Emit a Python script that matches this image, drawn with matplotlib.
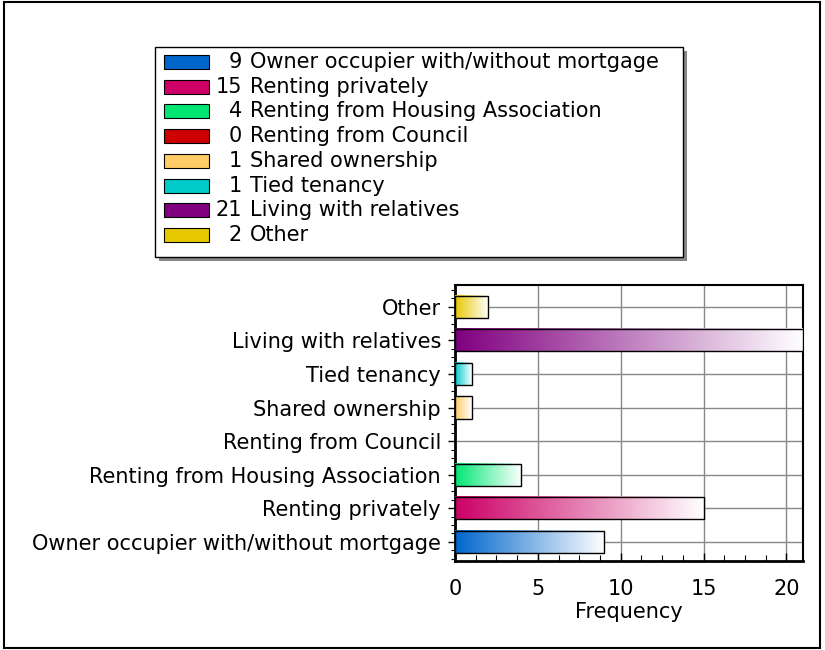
import numpy as np
import matplotlib.pyplot as plt
from matplotlib.colors import to_rgb
from matplotlib.patches import Rectangle

# Datos
categorias = ['Owner occupier with/without mortgage', 'Renting privately',
              'Renting from Housing Association', 'Renting from Council',
              'Shared ownership', 'Tied tenancy', 'Living with relatives', 'Other']
frecuencias = [9, 15, 4, 0, 1, 1, 21, 2]
colores = ['#0066CC', '#CC0066', '#00E673', '#CC0000',
           '#FFCC66', '#00CCCC', '#800080', '#E6C800']
ticks_x = [0, 5, 10, 15, 20]

plt.rcParams['font.family'] = ['DejaVu Sans']
fs = 15

fig = plt.figure(figsize=(8.25, 6.5), dpi=100)

# Capa de fondo en pixeles: marco exterior y leyenda
fondo = fig.add_axes([0, 0, 1, 1])
fondo.set_xlim(0, 825)
fondo.set_ylim(650, 0)
fondo.axis('off')
fondo.add_patch(Rectangle((4, 2), 816, 646, fill=False, edgecolor='black', lw=1.5))

# Leyenda con sombra
fondo.add_patch(Rectangle((159, 51), 528, 210, facecolor='#888888', edgecolor='none'))
fondo.add_patch(Rectangle((155, 47), 528, 210, facecolor='white', edgecolor='black', lw=1))
for i, (cat, val, col) in enumerate(zip(categorias, frecuencias, colores)):
    yc = 62 + i * 24.7
    fondo.add_patch(Rectangle((164, yc - 7), 45, 14, facecolor=col,
                              edgecolor='black', lw=0.8))
    fondo.text(242, yc, str(val), ha='right', va='center', fontsize=fs)
    fondo.text(250, yc, cat, ha='left', va='center', fontsize=fs)

# Grafico de barras
ax = fig.add_axes([455 / 825, 1 - 561 / 650, 348 / 825, 276 / 650])
ax.set_zorder(2)
y = np.arange(len(categorias))
alto = 0.66
for yi, val, col in zip(y, frecuencias, colores):
    if val <= 0:
        continue
    c = np.array(to_rgb(col))
    t = np.linspace(0, 1, 256)[:, None]
    grad = (c * (1 - t) + np.ones(3) * t)[None, :, :]
    ax.imshow(grad, extent=[0, val, yi - alto / 2, yi + alto / 2],
              aspect='auto', zorder=3, interpolation='bilinear')
    ax.add_patch(Rectangle((0, yi - alto / 2), val, alto, fill=False,
                           edgecolor='black', lw=1, zorder=4))

ax.set_xlim(0, 21)
ax.set_ylim(-0.57, 7.65)
ax.set_yticks(y)
ax.set_yticklabels(categorias, fontsize=fs)
ax.set_yticks(np.arange(-0.5, 7.6, 0.25), minor=True)
ax.set_xticks(ticks_x)
ax.set_xticklabels([str(t) for t in ticks_x], fontsize=fs)
ax.set_xticks(np.arange(0, 21.1, 1.25), minor=True)
ax.tick_params(axis='y', which='major', length=5, width=1, pad=5)
ax.tick_params(axis='y', which='minor', length=3, width=0.8)
ax.tick_params(axis='x', which='major', direction='in', length=6, width=1, pad=13)
ax.tick_params(axis='x', which='minor', direction='in', length=4, width=0.8)
ax.grid(True, which='major', color='#888888', lw=1, zorder=1)
ax.set_axisbelow(True)
for s in ax.spines.values():
    s.set_linewidth(1.5)
ax.spines['left'].set_linewidth(2)
ax.spines['bottom'].set_linewidth(2)
ax.set_xlabel('Frequency', fontsize=fs, labelpad=2)

fig.savefig('out.png', dpi=100)
